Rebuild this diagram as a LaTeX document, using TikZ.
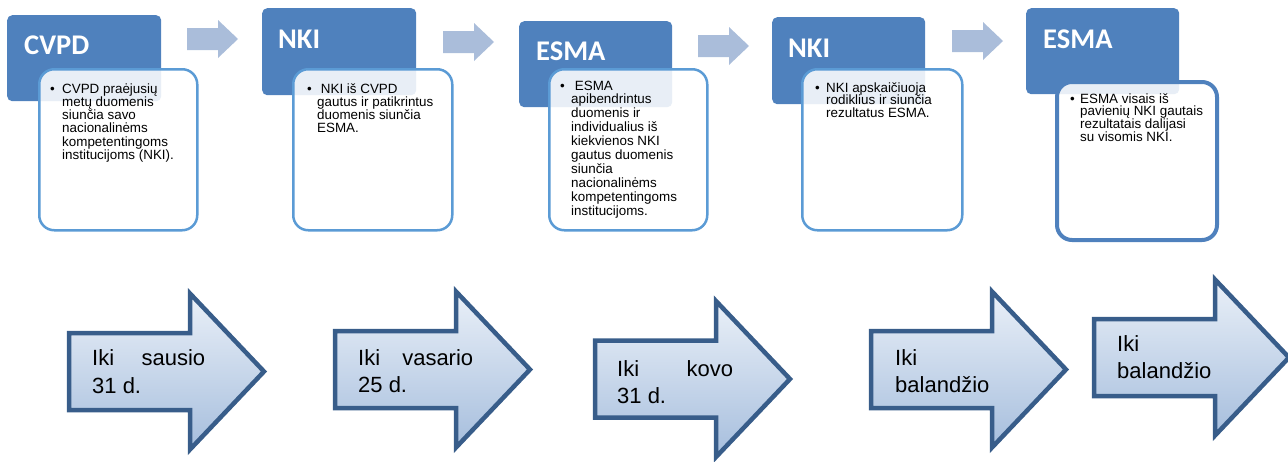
\documentclass[tikz,border=0pt]{standalone}
\usepackage{fontspec}
\setmainfont{Liberation Sans}
\newfontfamily\titlefont{Carlito}
\definecolor{hdrblue}{HTML}{4F81BD}
\definecolor{cardblue}{HTML}{5B9BD5}
\definecolor{lightarr}{HTML}{AABDDA}
\definecolor{arrborder}{HTML}{385D8A}
\definecolor{arrtop}{HTML}{EAF0F8}
\definecolor{arrbottom}{HTML}{A6BEDD}
\newcommand{\Bul}[1]{\llap{\makebox[#1][l]{•}}}
\begin{document}
\begin{tikzpicture}[x=1pt,y=-1pt,
  hdr/.style={fill=hdrblue, rounded corners=5pt, draw=none, inner sep=0pt, anchor=north west},
  card/.style={draw=cardblue, line width=2.5pt, fill=white, fill opacity=0.87, draw opacity=1, rounded corners=15pt, inner sep=0pt, anchor=north west},
  lastcard/.style={card, draw=hdrblue, line width=4pt},
  title/.style={text=white, font=\titlefont\bfseries\fontsize{28.5}{30}\selectfont, inner sep=0pt, anchor=base west},
  bultext/.style={text=black, font=\fontsize{13.4}{13.3}\selectfont, inner sep=0pt, anchor=base west},
  arrtext/.style={text=black, font=\fontsize{22}{28}\selectfont, inner sep=0pt, anchor=base west},
  smallarrow/.pic={\fill[lightarr] (0,-11) -- (31,-11) -- (31,-19) -- (51,0) -- (31,19) -- (31,11) -- (0,11) -- cycle;},
  bigarrow/.pic={\path[draw=arrborder, line width=4.5pt, top color=arrtop, bottom color=arrbottom, line join=miter]
     (2,-38.5) -- (123,-38.5) -- (123,-78) -- (197,0) -- (123,78) -- (123,38.5) -- (2,38.5) -- cycle;}
]
\useasboundingbox (0,0) rectangle (1288,461);
\clip (0,0) rectangle (1288,461);

% headers
\node[hdr, minimum width=154pt, minimum height=86pt] (h1) at (7,15) {};
\node[hdr, minimum width=154pt, minimum height=87pt] (h2) at (262,8) {};
\node[hdr, minimum width=153pt, minimum height=86pt] (h3) at (519,21) {};
\node[hdr, minimum width=153pt, minimum height=87pt] (h4) at (772,17) {};
\node[hdr, minimum width=153pt, minimum height=86pt] (h5) at (1026,8) {};

\node[title] (t1) at (24,54) {CVPD};
\node[title] (t2) at (278,48) {NKI};
\node[title] (t3) at (536,60) {ESMA};
\node[title] (t4) at (788,57) {NKI};
\node[title] (t5) at (1043,48) {ESMA};

% cards
\node[card, minimum width=158pt, minimum height=161pt] (c1) at (38,68) {};
\node[card, minimum width=159pt, minimum height=161pt] (c2) at (292,68) {};
\node[card, minimum width=158pt, minimum height=161pt] (c3) at (548,68) {};
\node[card, minimum width=160pt, minimum height=161pt] (c4) at (801,68) {};
\node[lastcard, minimum width=160pt, minimum height=158pt] (c5) at (1055,80) {};

\node[bultext] (b1) at (62,93) {\vtop{\baselineskip=13.3pt
  \hbox{\Bul{12pt}CVPD praėjusių}\hbox{metų duomenis}\hbox{siunčia savo}\hbox{nacionalinėms}\hbox{kompetentingoms}\hbox{institucijoms (NKI).}}};
\node[bultext] (b2) at (317,93) {\vtop{\baselineskip=13.3pt
  \hbox{\Bul{10pt}\ NKI iš CVPD}\hbox{gautus ir patikrintus}\hbox{duomenis siunčia}\hbox{ESMA.}}};
\node[bultext] (b3) at (571,90) {\vtop{\baselineskip=13.9pt
  \hbox{\Bul{11pt}\ ESMA}\hbox{apibendrintus}\hbox{duomenis ir}\hbox{individualius iš}\hbox{kiekvienos NKI}\hbox{gautus duomenis}\hbox{siunčia}\hbox{nacionalinėms}\hbox{kompetentingoms}\hbox{institucijoms.}}};
\node[bultext] (b4) at (826,92) {\vtop{\baselineskip=12.9pt
  \hbox{\Bul{11pt}NKI apskaičiuoja}\hbox{rodiklius ir siunčia}\hbox{rezultatus ESMA.}}};
\node[bultext] (b5) at (1080,103) {\vtop{\baselineskip=12.9pt
  \hbox{\Bul{10pt}ESMA visais iš}\hbox{pavienių NKI gautais}\hbox{rezultatais dalijasi}\hbox{su visomis NKI.}}};

% small arrows
\pic at (187,39) {smallarrow};
\pic at (443,42) {smallarrow};
\pic at (698,46) {smallarrow};
\pic at (952,41) {smallarrow};

% big arrows
\pic at (67,371.5) {bigarrow};
\pic at (333,369.5) {bigarrow};
\pic at (593,379) {bigarrow};
\pic at (869,369.5) {bigarrow};
\pic at (1092,357.5) {bigarrow};

\node[arrtext] (l1) at (92,365) {\vtop{\baselineskip=28pt\hbox to 113pt{Iki\hfill sausio}\hbox{31 d.}}};
\node[arrtext] (l2) at (358,365) {\vtop{\baselineskip=27.5pt\hbox to 115pt{Iki\hfill vasario}\hbox{25 d.}}};
\node[arrtext] (l3) at (617,376) {\vtop{\baselineskip=27.5pt\hbox to 116pt{Iki\hfill kovo}\hbox{31 d.}}};
\node[arrtext] (l4) at (895,365) {\vtop{\baselineskip=27.5pt\hbox{Iki}\hbox{balandžio}}};
\node[arrtext] (l5) at (1117,351) {\vtop{\baselineskip=27.5pt\hbox{Iki}\hbox{balandžio}}};
\end{tikzpicture}
\end{document}
